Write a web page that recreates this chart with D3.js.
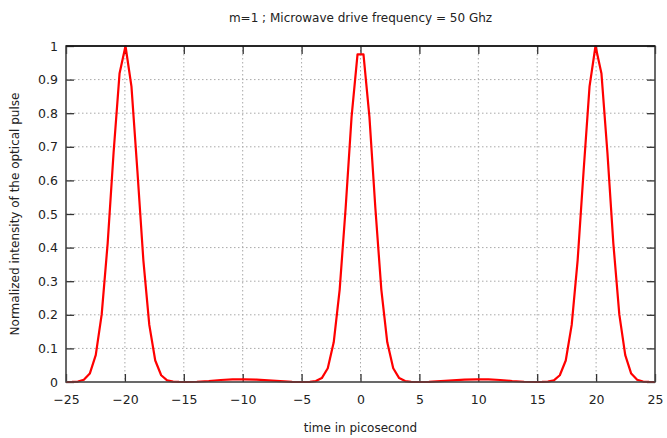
<!DOCTYPE html>
<html>
<head>
<meta charset="utf-8">
<script src="https://cdn.jsdelivr.net/npm/d3@7"></script>
<style>
  body { margin: 0; background: #fff; }
  text { font-family: "DejaVu Sans", sans-serif; fill: #222; }
  .grid line { stroke: #a8a8a8; stroke-dasharray: 1.5,2.5; }
</style>
</head>
<body>
<div class="chart"></div>
<script>
// data: time (ps) and normalized intensity
var times = [-25, -24.495, -23.990, -23.485, -22.980, -22.475, -21.970, -21.465, -20.960, -20.455,
  -19.949, -19.444, -18.939, -18.434, -17.929, -17.424, -16.919, -16.414, -15.909, -15.404,
  -14.899, -13.889, -12.879, -11.869, -10.859, -10.354, -9.848, -8.838, -7.828, -6.818,
  -5.808, -5.303, -4.798, -4.293, -3.788, -3.283, -2.778, -2.273, -1.768, -1.263,
  -0.758, -0.253, 0.253, 0.758, 1.263, 1.768, 2.273, 2.778, 3.283, 3.788,
  4.293, 4.798, 5.303, 5.808, 6.818, 7.828, 8.838, 9.848, 10.354, 10.859,
  11.869, 12.879, 13.889, 14.899, 15.404, 15.909, 16.414, 16.919, 17.424, 17.929,
  18.434, 18.939, 19.444, 19.949, 20.455, 20.960, 21.465, 21.970, 22.475, 22.980,
  23.485, 23.990, 24.495, 25];
var intensity = [0, 0.0002, 0.0014, 0.0066, 0.025, 0.080, 0.201, 0.412, 0.683, 0.918,
  1.0, 0.880, 0.628, 0.363, 0.170, 0.064, 0.020, 0.0049, 0.001, 0.0003,
  0, 0.0008, 0.003, 0.006, 0.0076, 0.008, 0.008, 0.0072, 0.005, 0.0024,
  0.0005, 0, 0, 0.0005, 0.0027, 0.0117, 0.041, 0.118, 0.275, 0.517,
  0.789, 0.975, 0.975, 0.789, 0.517, 0.275, 0.118, 0.041, 0.0117, 0.0027,
  0.0005, 0, 0, 0.0005, 0.0024, 0.005, 0.0072, 0.008, 0.008, 0.0076,
  0.006, 0.003, 0.0008, 0, 0.0003, 0.001, 0.0049, 0.020, 0.064, 0.170,
  0.363, 0.628, 0.880, 1.0, 0.918, 0.683, 0.412, 0.201, 0.080, 0.025,
  0.0066, 0.0014, 0.0002, 0];
var xTicks = [-25, -20, -15, -10, -5, 0, 5, 10, 15, 20, 25];
var yTicks = [0, 0.1, 0.2, 0.3, 0.4, 0.5, 0.6, 0.7, 0.8, 0.9, 1];

var title = "m=1 ; Microwave drive frequency = 50 Ghz";
var xLabel = "time in picosecond";
var yLabel = "Normalized intensity of the optical pulse";

// dimensions
var W = 667, H = 438;
var margin = {top: 46, right: 12, bottom: 56, left: 66};
var width = W - margin.left - margin.right;
var height = H - margin.top - margin.bottom;
var tickLen = 8;

var x = d3.scaleLinear().domain([-25, 25]).range([0, width]);
var y = d3.scaleLinear().domain([0, 1]).range([height, 0]);

var svg = d3.select(".chart").append("svg")
  .attr("width", W)
  .attr("height", H);
var chart = svg.append("g")
  .attr("transform", "translate(" + margin.left + "," + margin.top + ")");

// grid
var grid = chart.append("g").attr("class", "grid");
grid.selectAll(".vx")
  .data(xTicks.slice(1, -1))
  .enter().append("line")
  .attr("x1", function(d) { return x(d); })
  .attr("x2", function(d) { return x(d); })
  .attr("y1", 0).attr("y2", height);
grid.selectAll(".hy")
  .data(yTicks.slice(1, -1))
  .enter().append("line")
  .attr("y1", function(d) { return y(d); })
  .attr("y2", function(d) { return y(d); })
  .attr("x1", 0).attr("x2", width);

// mirrored inward ticks
function noLabels() { return ""; }
chart.append("g")
  .call(d3.axisBottom(x).tickValues(xTicks).tickSize(tickLen).tickFormat(noLabels))
  .call(function(g) { g.select(".domain").remove(); });
chart.append("g")
  .attr("transform", "translate(0," + height + ")")
  .call(d3.axisTop(x).tickValues(xTicks).tickSize(tickLen).tickFormat(noLabels))
  .call(function(g) { g.select(".domain").remove(); });
chart.append("g")
  .call(d3.axisRight(y).tickValues(yTicks).tickSize(tickLen).tickFormat(noLabels))
  .call(function(g) { g.select(".domain").remove(); });
chart.append("g")
  .attr("transform", "translate(" + width + ",0)")
  .call(d3.axisLeft(y).tickValues(yTicks).tickSize(tickLen).tickFormat(noLabels))
  .call(function(g) { g.select(".domain").remove(); });
chart.selectAll(".tick line").attr("stroke", "#333").attr("stroke-width", 1.3);

// tick labels
chart.append("g")
  .attr("transform", "translate(0," + height + ")")
  .call(d3.axisBottom(x).tickValues(xTicks).tickSize(0).tickPadding(13)
    .tickFormat(d3.format("d")))
  .call(function(g) {
    g.select(".domain").remove();
    g.selectAll("text").style("font-size", "12.5px").attr("fill", "#222");
  });
chart.append("g")
  .call(d3.axisLeft(y).tickValues(yTicks).tickSize(0).tickPadding(8)
    .tickFormat(function(d) { return d3.format("~g")(d); }))
  .call(function(g) {
    g.select(".domain").remove();
    g.selectAll("text").style("font-size", "12.5px").attr("fill", "#222");
  });

// the pulse train
var line = d3.line()
  .x(function(d, i) { return x(times[i]); })
  .y(function(d) { return y(d); });
chart.append("path")
  .datum(intensity)
  .attr("fill", "none")
  .attr("stroke", "#ff0000")
  .attr("stroke-width", 2.2)
  .attr("stroke-linejoin", "round")
  .attr("d", line);

// border: top/right darker, left/bottom grey as in the original
chart.append("rect")
  .attr("width", width).attr("height", height)
  .attr("fill", "none")
  .attr("stroke", "#444")
  .attr("stroke-width", 1.6);
chart.append("line")
  .attr("x1", 0).attr("x2", width).attr("y1", 0).attr("y2", 0)
  .attr("stroke", "#111").attr("stroke-width", 1.6);

// labels
svg.append("text")
  .attr("x", margin.left + width / 2).attr("y", 22)
  .attr("text-anchor", "middle")
  .style("font-size", "12px")
  .text(title);
svg.append("text")
  .attr("x", margin.left + width / 2).attr("y", 432)
  .attr("text-anchor", "middle")
  .style("font-size", "12px")
  .text(xLabel);
svg.append("text")
  .attr("transform", "translate(19," + (margin.top + height / 2) + ") rotate(-90)")
  .attr("text-anchor", "middle")
  .style("font-size", "12px")
  .text(yLabel);
</script>
</body>
</html>
